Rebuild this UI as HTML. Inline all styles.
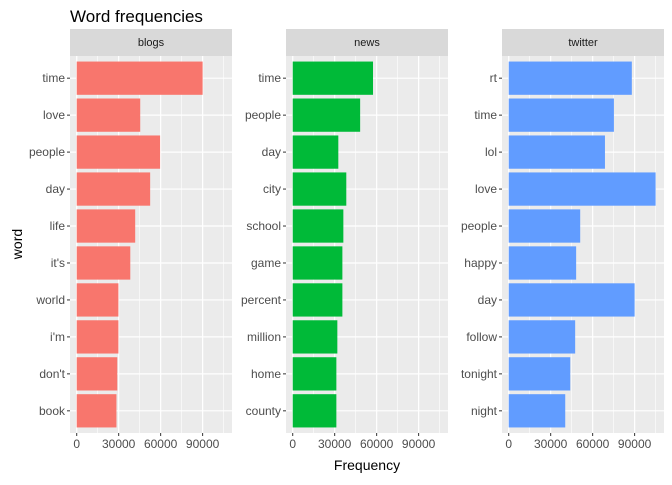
<!DOCTYPE html>
<html><head><meta charset="utf-8"><style>
body{margin:0;background:#fff}
svg text{font-family:"Liberation Sans",Arial,sans-serif}
</style></head><body>
<svg id="chart" width="672" height="480" xmlns="http://www.w3.org/2000/svg"></svg>
<script>
const panels = ["blogs","news","twitter"];
const blogsWords = ["time","love","people","day","life","it's","world","i'm","don't","book"];
const blogsValues = [90000,45400,59600,52500,41800,38300,29800,29800,29000,28400];
const newsWords = ["time","people","day","city","school","game","percent","million","home","county"];
const newsValues = [57400,48200,32600,38300,36200,35500,35500,31900,31200,31200];
const twitterWords = ["rt","time","lol","love","people","happy","day","follow","tonight","night"];
const twitterValues = [88000,75200,68800,105000,51100,48200,90000,47500,44000,40400];
const xTicks = [0,30000,60000,90000];
const xMinor = [15000,45000,75000,105000];
const colors = ["#F8766D","#00BA38","#619CFF"];

const svg = document.getElementById('chart');
const NS = "http://www.w3.org/2000/svg";
function mk(tag, attrs, parent){const e=document.createElementNS(NS,tag);for(const k in attrs)e.setAttribute(k,attrs[k]);(parent||svg).appendChild(e);return e;}

const panelLeft=[70,286,502], panelW=162, plotTop=56, plotBottom=433;
const dmin=-4800, dmax=111000;
const words=[blogsWords,newsWords,twitterWords];
const values=[blogsValues,newsValues,twitterValues];

let t=mk('text',{x:70,y:22,'font-size':17,fill:'#000'});t.textContent='Word frequencies';


t=mk('text',{x:367,y:470,'font-size':14,fill:'#000','text-anchor':'middle'});t.textContent='Frequency';


t=mk('text',{x:22,y:244,'font-size':14,fill:'#000','text-anchor':'middle',transform:'rotate(-90 22 244)'});t.textContent='word';



panels.forEach((p,pi)=>{
  const L=panelLeft[pi];
  const xs=v=>L+(v-dmin)/(dmax-dmin)*panelW;
  const n=words[pi].length;
  const band=(plotBottom-plotTop)/(n+0.2);
  const ys=i=>plotTop+(0.6+i)*band;
  const g=mk('g',{});
  
  
  mk('rect',{x:L,y:29,width:panelW,height:27,fill:'#D9D9D9'},g);
  let s=mk('text',{x:L+panelW/2,y:46,'font-size':11,fill:'#1A1A1A','text-anchor':'middle'},g);s.textContent=p;
  
  
  mk('rect',{x:L,y:plotTop,width:panelW,height:plotBottom-plotTop,fill:'#EBEBEB'},g);
  xMinor.forEach(v=>mk('line',{x1:xs(v),x2:xs(v),y1:plotTop,y2:plotBottom,stroke:'#fff','stroke-width':0.6},g));
  xTicks.forEach(v=>{
    mk('line',{x1:xs(v),x2:xs(v),y1:plotTop,y2:plotBottom,stroke:'#fff','stroke-width':1.2},g);
    mk('line',{x1:xs(v),x2:xs(v),y1:plotBottom,y2:plotBottom+3,stroke:'#333','stroke-width':1},g);
    const tl=mk('text',{x:xs(v),y:plotBottom+15,'font-size':12,fill:'#4D4D4D','text-anchor':'middle'},g);tl.textContent=v;
    
    
  });
  words[pi].forEach((w,i)=>{
    mk('line',{x1:L,x2:L+panelW,y1:ys(i),y2:ys(i),stroke:'#fff','stroke-width':1.2},g);
    mk('line',{x1:L-3,x2:L,y1:ys(i),y2:ys(i),stroke:'#333','stroke-width':1},g);
    const yl=mk('text',{x:L-5,y:ys(i)+4,'font-size':12,fill:'#4D4D4D','text-anchor':'end'},g);yl.textContent=w;
    
    
    const b=mk('rect',{x:xs(0),y:ys(i)-band*0.45,width:xs(values[pi][i])-xs(0),height:band*0.9,fill:colors[pi]},g);
    
    
  });
});
</script>
</body></html>
